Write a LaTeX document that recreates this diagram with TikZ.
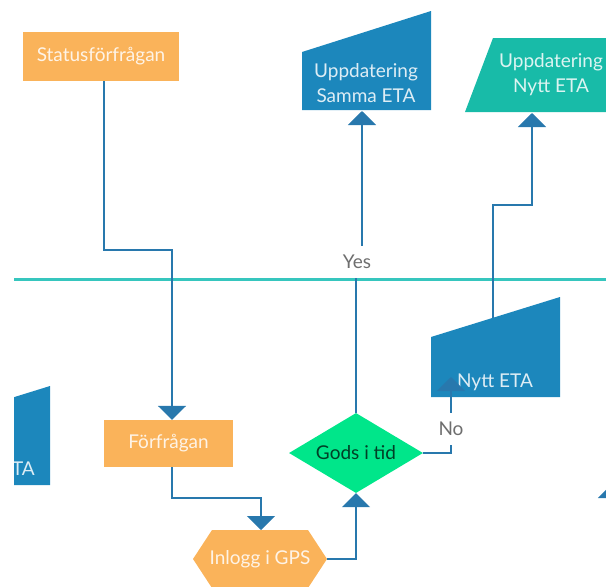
\documentclass[tikz,border=0pt]{standalone}
\usepackage{fontspec}
\setmainfont{Lato}
\usetikzlibrary{arrows.meta,shapes.geometric}

\definecolor{boxorange}{HTML}{FAB35A}
\definecolor{boxblue}{HTML}{1C87BC}
\definecolor{boxteal}{HTML}{18BBA8}
\definecolor{boxgreen}{HTML}{00E68A}
\definecolor{wire}{HTML}{2878AD}
\definecolor{lane}{HTML}{36C6BE}
\definecolor{lbltext}{HTML}{6E6E6E}

\tikzset{
  shapetext/.style={text=white, text opacity=0.85, font=\fontsize{19}{25}\selectfont,
    align=center, inner sep=0pt},
  orangebox/.style={rectangle, fill=boxorange, shapetext},
  decision/.style={diamond, fill=boxgreen, aspect=1.675, inner sep=0pt,
    minimum width=134pt, minimum height=80pt, text=black, text opacity=0.72,
    font=\fontsize{19}{22}\selectfont},
  flow/.style={draw=wire, line width=2pt, -{Triangle[width=28pt,length=14pt]}},
  lbl/.style={fill=white, text=lbltext, font=\fontsize{19}{22}\selectfont,
    inner xsep=2pt, inner ysep=9pt},
}

\begin{document}
\begin{tikzpicture}[x=1pt,y=-1pt]
\useasboundingbox (0,0) rectangle (606,587);
\begin{scope}
\clip (14,0) rectangle (606,587);

% lane divider
\draw[lane, line width=3pt] (14,279) -- (606,279);

% upper lane
\node[orangebox, minimum width=156pt, minimum height=49pt] (status) at (101,56.5) {Statusförfrågan};

\fill[boxblue] (302,52) -- (431,11) -- (431,110) -- (302,110) -- cycle;
\node[shapetext] (samma) at (366,83.5) {Uppdatering\\Samma ETA};
\coordinate (sammaIn) at (362,111);

\fill[boxteal] (465,112) -- (493,38) -- (607,38) -- (635,112) -- cycle;
\node[shapetext] (nyttupd) at (551,75) {Uppdatering\\Nytt ETA};
\coordinate (nyttupdIn) at (532,113);

% lower lane
\fill[boxblue] (-79,426) -- (50,386) -- (50,485) -- (-79,485) -- cycle;
\node[shapetext, anchor=east] (leftEta) at (35,470) {Nytt ETA};

\node[orangebox, minimum width=129pt, minimum height=47pt] (forfragan) at (168.5,443.5) {Förfrågan};

\fill[boxorange] (193,559) -- (212,530) -- (308,530) -- (327,559) -- (308,588) -- (212,588) -- cycle;
\node[shapetext] (inlogg) at (260,559) {Inlogg i GPS};
\coordinate (inloggN) at (261,530);
\coordinate (inloggE) at (327,559);

\node[decision] (gods) at (356,453) {Gods i tid};

\fill[boxblue] (431,337) -- (560,297) -- (560,397) -- (431,397) -- cycle;
\node[shapetext] (nytt) at (495,382) {Nytt ETA};
\coordinate (nyttOut) at (493,318);
\coordinate (nyttIn) at (451,377);

% connectors
\coordinate (s1) at (104,250);
\draw[flow] ([xshift=3pt]status.south) -- (s1) -| ([xshift=3.5pt]forfragan.north);

\coordinate (s2) at (172,498);
\draw[flow] ([xshift=3.5pt]forfragan.south) -- (s2) -| (inloggN);

\draw[flow] (inloggE) -| (gods.south);

\coordinate (y1) at (356,262);
\coordinate (y2) at (362,262);
\draw[flow] (gods.north) -- (y1) -- (y2) -- (sammaIn);
\node[lbl] (yes) at (357,262) {Yes};

\draw[flow] (gods.east) -| (nyttIn);
\node[lbl] (no) at (451,429) {No};

\coordinate (n1) at (493,205);
\draw[flow] (nyttOut) -- (n1) -| (nyttupdIn);

\coordinate (edgeA) at (612,600);
\coordinate (edgeB) at (612,484);
\draw[flow] (edgeA) -- (edgeB);
\end{scope}
\end{tikzpicture}
\end{document}
